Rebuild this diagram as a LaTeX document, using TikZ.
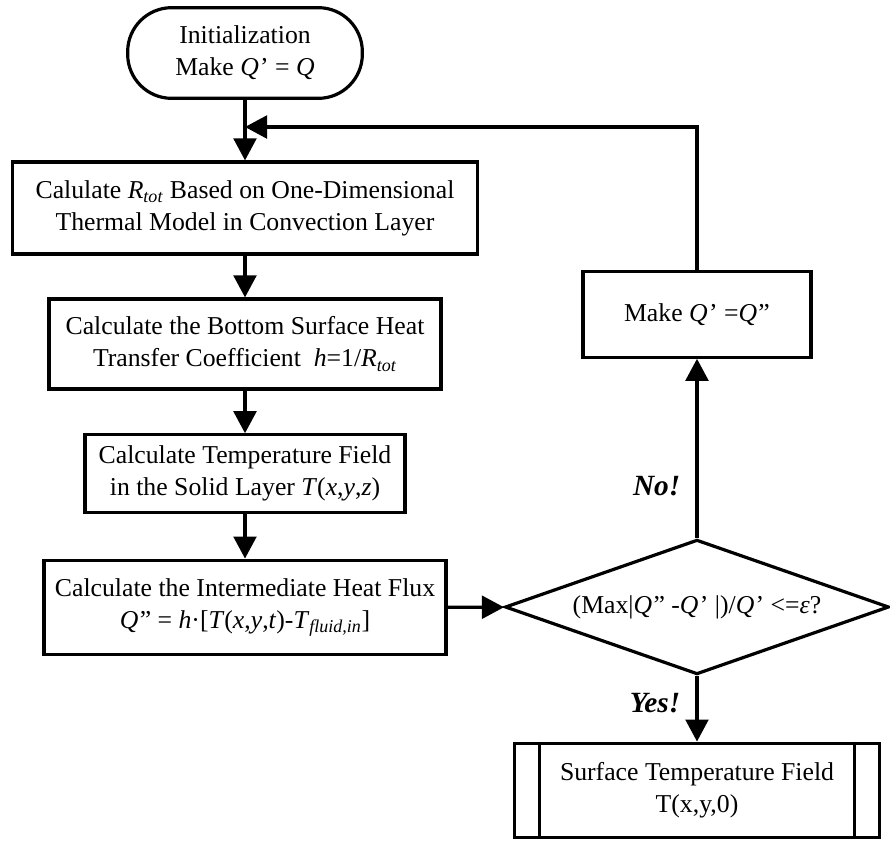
\documentclass[tikz,border=0pt]{standalone}
\usepackage{fontspec}
\setmainfont{Liberation Serif}
\usetikzlibrary{arrows.meta, shapes.geometric}

\begin{document}
\begin{tikzpicture}[
    x=0.75pt, y=-0.75pt,
    every node/.style={font=\fontsize{19.3}{24}\selectfont},
    stepbox/.style={draw=black, line width=2.4pt, fill=white, align=center, inner sep=0pt},
    startbox/.style={stepbox, rounded corners=33pt},
    testbox/.style={diamond, draw=black, line width=2.4pt, aspect=2.85, inner sep=0pt, align=center},
    flow/.style={line width=2.4pt, -{Triangle[length=16.5pt,width=17pt]}},
    answer/.style={font=\fontsize{22}{24}\selectfont\bfseries\itshape}
]
    \useasboundingbox (0,0) rectangle (890,840);

    % ---- main column ----
    \node[startbox, minimum width=176pt, minimum height=68pt] (init) at (245,53)
        {Initialization\\Make \textit{Q}\kern1pt’ = \textit{Q}};
    \node[stepbox, minimum width=349pt, minimum height=69pt] (rtot) at (245,208)
        {Calulate \textit{R}\textsubscript{\textit{tot}} Based on One-Dimensional\\Thermal Model in Convection Layer};
    \node[stepbox, minimum width=294pt, minimum height=67.5pt] (coef) at (245,344)
        {Calculate the Bottom Surface Heat\\Transfer Coefficient\ \ \textit{h}=1/\textit{R}\textsubscript{\textit{tot}}};
    \node[stepbox, minimum width=240pt, minimum height=58pt] (solid) at (245,473.5)
        {Calculate Temperature Field\\in the Solid Layer \textit{T}(\textit{x},\textit{y},\textit{z})};
    \node[stepbox, minimum width=301.5pt, minimum height=71pt] (flux) at (245,607.5)
        {Calculate the Intermediate Heat Flux\\\textit{Q}\kern1pt” = \textit{h}·[\textit{T}(\textit{x},\textit{y},\textit{t})-\textit{T}\textsubscript{\textit{fluid,in}}]};

    % ---- right column ----
    \node[testbox, minimum width=288pt, minimum height=101pt] (check) at (697,607)
        {(Max|\textit{Q}\kern1pt” -\textit{Q}\kern1pt’ |)/\textit{Q}\kern1pt’ <=\textit{ε}?};
    \node[stepbox, minimum width=171pt, minimum height=64pt] (update) at (697,314.5)
        {Make \textit{Q}\kern1pt’ =\textit{Q}\kern1pt”};
    \node[stepbox, minimum width=274pt, minimum height=71pt] (surf) at (697,790.5)
        {Surface Temperature Field\\T(x,y,0)};
    \draw[line width=2.4pt] ([xshift=20pt]surf.north west) -- ([xshift=20pt]surf.south west);
    \draw[line width=2.4pt] ([xshift=-20pt]surf.north east) -- ([xshift=-20pt]surf.south east);

    % ---- connectors ----
    \coordinate (join) at (245,127);
    \draw[flow] (init) -- (rtot);
    \draw[flow] (rtot) -- (coef);
    \draw[flow] (coef) -- (solid);
    \draw[flow] (solid) -- (flux);
    \draw[flow] (flux) -- (check);
    \draw[flow] (check) -- (update) node[answer, pos=0.29, left=8pt] {No!};
    \draw[flow] (check) -- (surf) node[answer, pos=0.41, left=8pt] {Yes!};
    \draw[flow] (update.north) |- (join);
\end{tikzpicture}
\end{document}
